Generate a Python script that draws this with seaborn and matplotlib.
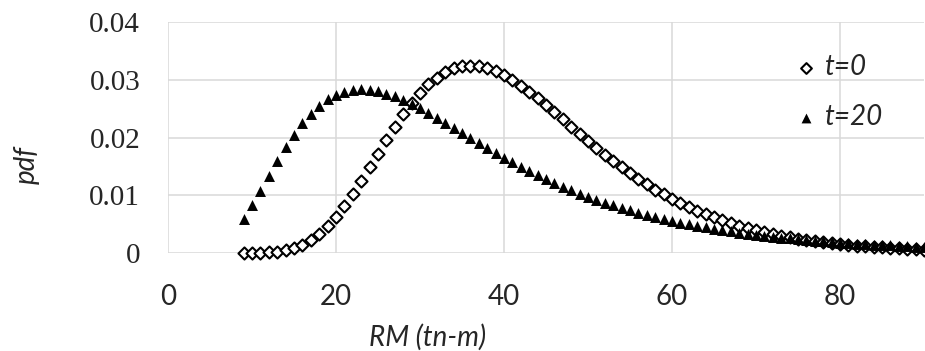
import pandas as pd
import seaborn as sns
import matplotlib.pyplot as plt

rm = list(range(9, 91))

pdf_t0 = [
    0.00000, 0.00001, 0.00004, 0.00010, 0.00023, 0.00046, 0.00084, 0.00142,
    0.00222, 0.00329, 0.00464, 0.00626, 0.00813, 0.01022, 0.01247, 0.01483,
    0.01723, 0.01960, 0.02188, 0.02402, 0.02598, 0.02770, 0.02918, 0.03038,
    0.03130, 0.03195, 0.03233, 0.03245, 0.03234, 0.03201, 0.03148, 0.03078,
    0.02994, 0.02898, 0.02792, 0.02679, 0.02560, 0.02438, 0.02313, 0.02188,
    0.02064, 0.01941, 0.01821, 0.01704, 0.01592, 0.01483, 0.01380, 0.01281,
    0.01187, 0.01098, 0.01015, 0.00937, 0.00863, 0.00794, 0.00730, 0.00671,
    0.00615, 0.00564, 0.00517, 0.00473, 0.00432, 0.00395, 0.00361, 0.00329,
    0.00300, 0.00274, 0.00249, 0.00227, 0.00207, 0.00188, 0.00171, 0.00156,
    0.00142, 0.00129, 0.00117, 0.00106, 0.00097, 0.00088, 0.00080, 0.00072,
    0.00066, 0.00060,
]

pdf_t20 = [
    0.00595, 0.00829, 0.01081, 0.01339, 0.01593, 0.01832, 0.02052, 0.02246,
    0.02413, 0.02550, 0.02659, 0.02740, 0.02796, 0.02827, 0.02837, 0.02828,
    0.02802, 0.02762, 0.02711, 0.02649, 0.02579, 0.02503, 0.02422, 0.02338,
    0.02252, 0.02164, 0.02075, 0.01987, 0.01900, 0.01814, 0.01730, 0.01648,
    0.01569, 0.01492, 0.01417, 0.01345, 0.01276, 0.01210, 0.01147, 0.01087,
    0.01029, 0.00974, 0.00922, 0.00872, 0.00825, 0.00780, 0.00737, 0.00697,
    0.00659, 0.00622, 0.00588, 0.00556, 0.00525, 0.00496, 0.00469, 0.00443,
    0.00419, 0.00396, 0.00374, 0.00353, 0.00334, 0.00315, 0.00298, 0.00282,
    0.00267, 0.00252, 0.00238, 0.00225, 0.00213, 0.00202, 0.00191, 0.00180,
    0.00171, 0.00162, 0.00153, 0.00145, 0.00137, 0.00130, 0.00123, 0.00117,
    0.00110, 0.00105,
]

xticks = [0, 20, 40, 60, 80]
xtick_labels = ["0", "20", "40", "60", "80"]
yticks = [0, 0.01, 0.02, 0.03, 0.04]
ytick_labels = ["0", "0.01", "0.02", "0.03", "0.04"]

sns.set_theme(style="whitegrid", rc={"grid.color": "#d9d9d9", "grid.linewidth": 1.1})
plt.rcParams["font.family"] = ["Lato", "DejaVu Sans"]

df = pd.DataFrame({"RM": rm, "t0": pdf_t0, "t20": pdf_t20})

fig, ax = plt.subplots(figsize=(9.25, 3.51), dpi=100)
fig.subplots_adjust(left=0.1816, right=0.999, top=0.9373, bottom=0.2792)

sns.scatterplot(data=df, x="RM", y="t0", marker="D", s=38, color="white",
                edgecolor="black", linewidth=1.5, clip_on=False, label="t=0", ax=ax)
sns.scatterplot(data=df, x="RM", y="t20", marker="^", s=62, color="black",
                edgecolor="black", linewidth=0, clip_on=False, label="t=20", ax=ax)

ax.set_xlim(0, 90)
ax.set_ylim(0, 0.04)
ax.set_xticks(xticks, labels=xtick_labels, fontsize=20)
ax.set_yticks(yticks, labels=ytick_labels, fontsize=21, fontfamily="Liberation Serif")
ax.tick_params(axis="x", length=0, pad=22)
ax.tick_params(axis="y", length=0, pad=20)
ax.set_axisbelow(True)
sns.despine(ax=ax, left=True, bottom=True)

ax.set_xlabel("RM (tn-m)", fontsize=20, fontstyle="italic")
ax.xaxis.set_label_coords(0.343, -0.305)
ax.set_ylabel("pdf", fontsize=20, fontstyle="italic")
ax.yaxis.set_label_coords(-0.169, 0.381)

leg = ax.legend(loc="upper left", bbox_to_anchor=(0.8267, 0.86), frameon=False,
                borderaxespad=0, borderpad=0, handlelength=0.9, handletextpad=0.25,
                labelspacing=0.85, prop={"size": 20, "style": "italic"})
leg.legend_handles[0].set_sizes([30])
leg.legend_handles[1].set_sizes([50])

fig.savefig("out.png", dpi=100)
